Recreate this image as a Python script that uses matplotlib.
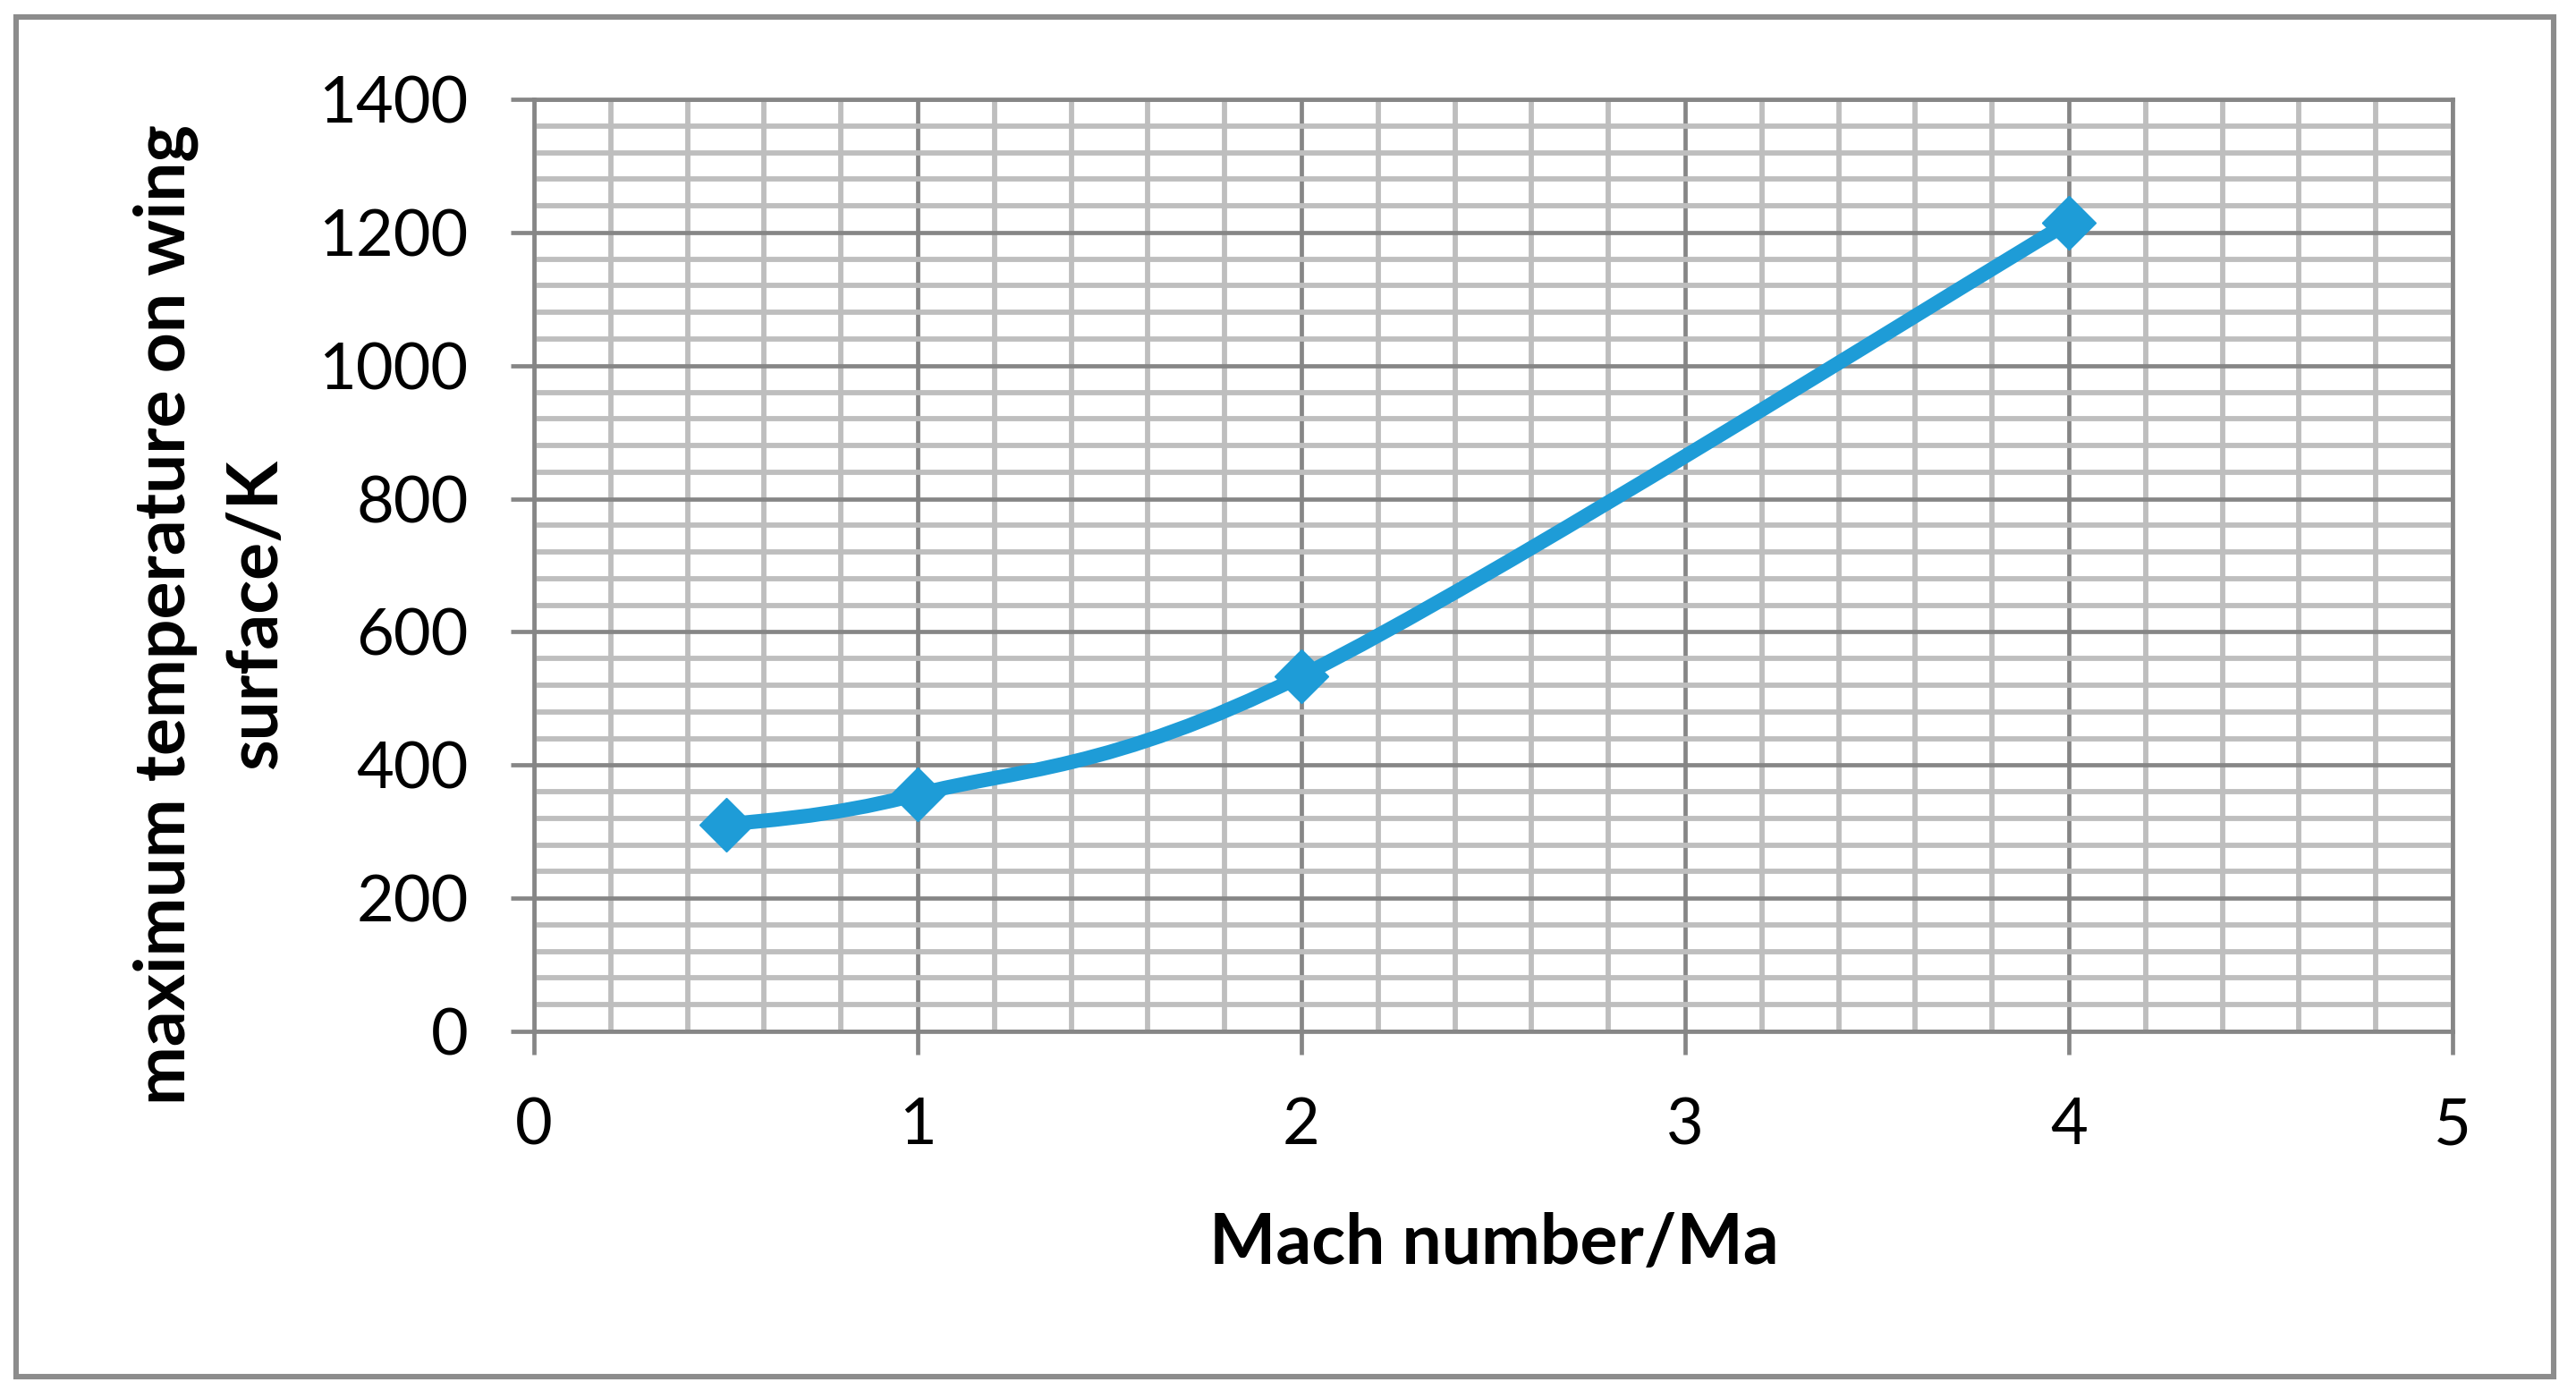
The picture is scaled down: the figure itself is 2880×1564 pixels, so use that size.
import matplotlib.pyplot as plt
import numpy as np
from matplotlib.path import Path
from matplotlib.patches import PathPatch, Rectangle
from matplotlib.ticker import MultipleLocator

plt.rcParams['font.family'] = ['Lato', 'DejaVu Sans']

# data
mach = [0.5, 1, 2, 4]
temp = [310, 356, 534, 1215]

x_label = "Mach number/Ma"
y_label = "maximum temperature on wing\nsurface/K"

line_color = "#1E9CD7"
major_grid = "#868686"
minor_grid = "#BEBEBE"


def smooth_path(xs, ys):
    """Excel-like smoothed line: Catmull-Rom segments as cubic Bezier curves."""
    pts = np.column_stack([xs, ys]).astype(float)
    n = len(pts)
    verts = [pts[0]]
    codes = [Path.MOVETO]
    for i in range(n - 1):
        p_prev = pts[i - 1] if i > 0 else pts[i]
        p_next2 = pts[i + 2] if i + 2 < n else pts[i + 1]
        c1 = pts[i] + (pts[i + 1] - p_prev) / 6
        c2 = pts[i + 1] - (p_next2 - pts[i]) / 6
        verts += [c1, c2, pts[i + 1]]
        codes += [Path.CURVE4] * 3
    return Path(verts, codes)


fig = plt.figure(figsize=(14.4, 7.82), dpi=200)
ax = fig.add_axes([0.2073, 0.2628, 0.7448, 0.6662])

ax.set_xlim(0, 5)
ax.set_ylim(0, 1400)
ax.xaxis.set_major_locator(MultipleLocator(1))
ax.xaxis.set_minor_locator(MultipleLocator(0.2))
ax.yaxis.set_major_locator(MultipleLocator(200))
ax.yaxis.set_minor_locator(MultipleLocator(40))

ax.grid(which='minor', color=minor_grid, linewidth=2.1, zorder=0)
ax.grid(which='major', color=major_grid, linewidth=1.7, zorder=0.5)
ax.set_axisbelow(True)

for side, sp in ax.spines.items():
    sp.set_color(major_grid)
    sp.set_linewidth(1.7)

ax.tick_params(which='major', length=9.4, width=1.7, color=major_grid,
               labelsize=26, pad=17)
ax.tick_params(which='minor', length=0)
ax.tick_params(axis='x', which='both', top=False)
ax.tick_params(axis='y', which='both', right=False)

patch = PathPatch(smooth_path(mach, temp), facecolor='none', edgecolor=line_color,
                  linewidth=5.8, capstyle='round', joinstyle='round', zorder=3)
ax.add_patch(patch)
ax.plot(mach, temp, linestyle='none', marker='D', markersize=15.5,
        color=line_color, markeredgewidth=0.5, zorder=4, clip_on=False)

fig.text(0.5799, 0.0965, x_label, ha='center', va='baseline',
         fontsize=28.3, fontweight='bold')
fig.text(0.0819, 0.5607, y_label, ha='center', va='center', rotation=90,
         fontsize=28.3, fontweight='bold', multialignment='center', linespacing=1.5)

# outer chart border
fig.patches.append(Rectangle((0.00625, 0.016), 0.985, 0.9719, transform=fig.transFigure,
                             fill=False, edgecolor='#8C8C8C', linewidth=2.2))

fig.savefig("out.png", dpi=200)
